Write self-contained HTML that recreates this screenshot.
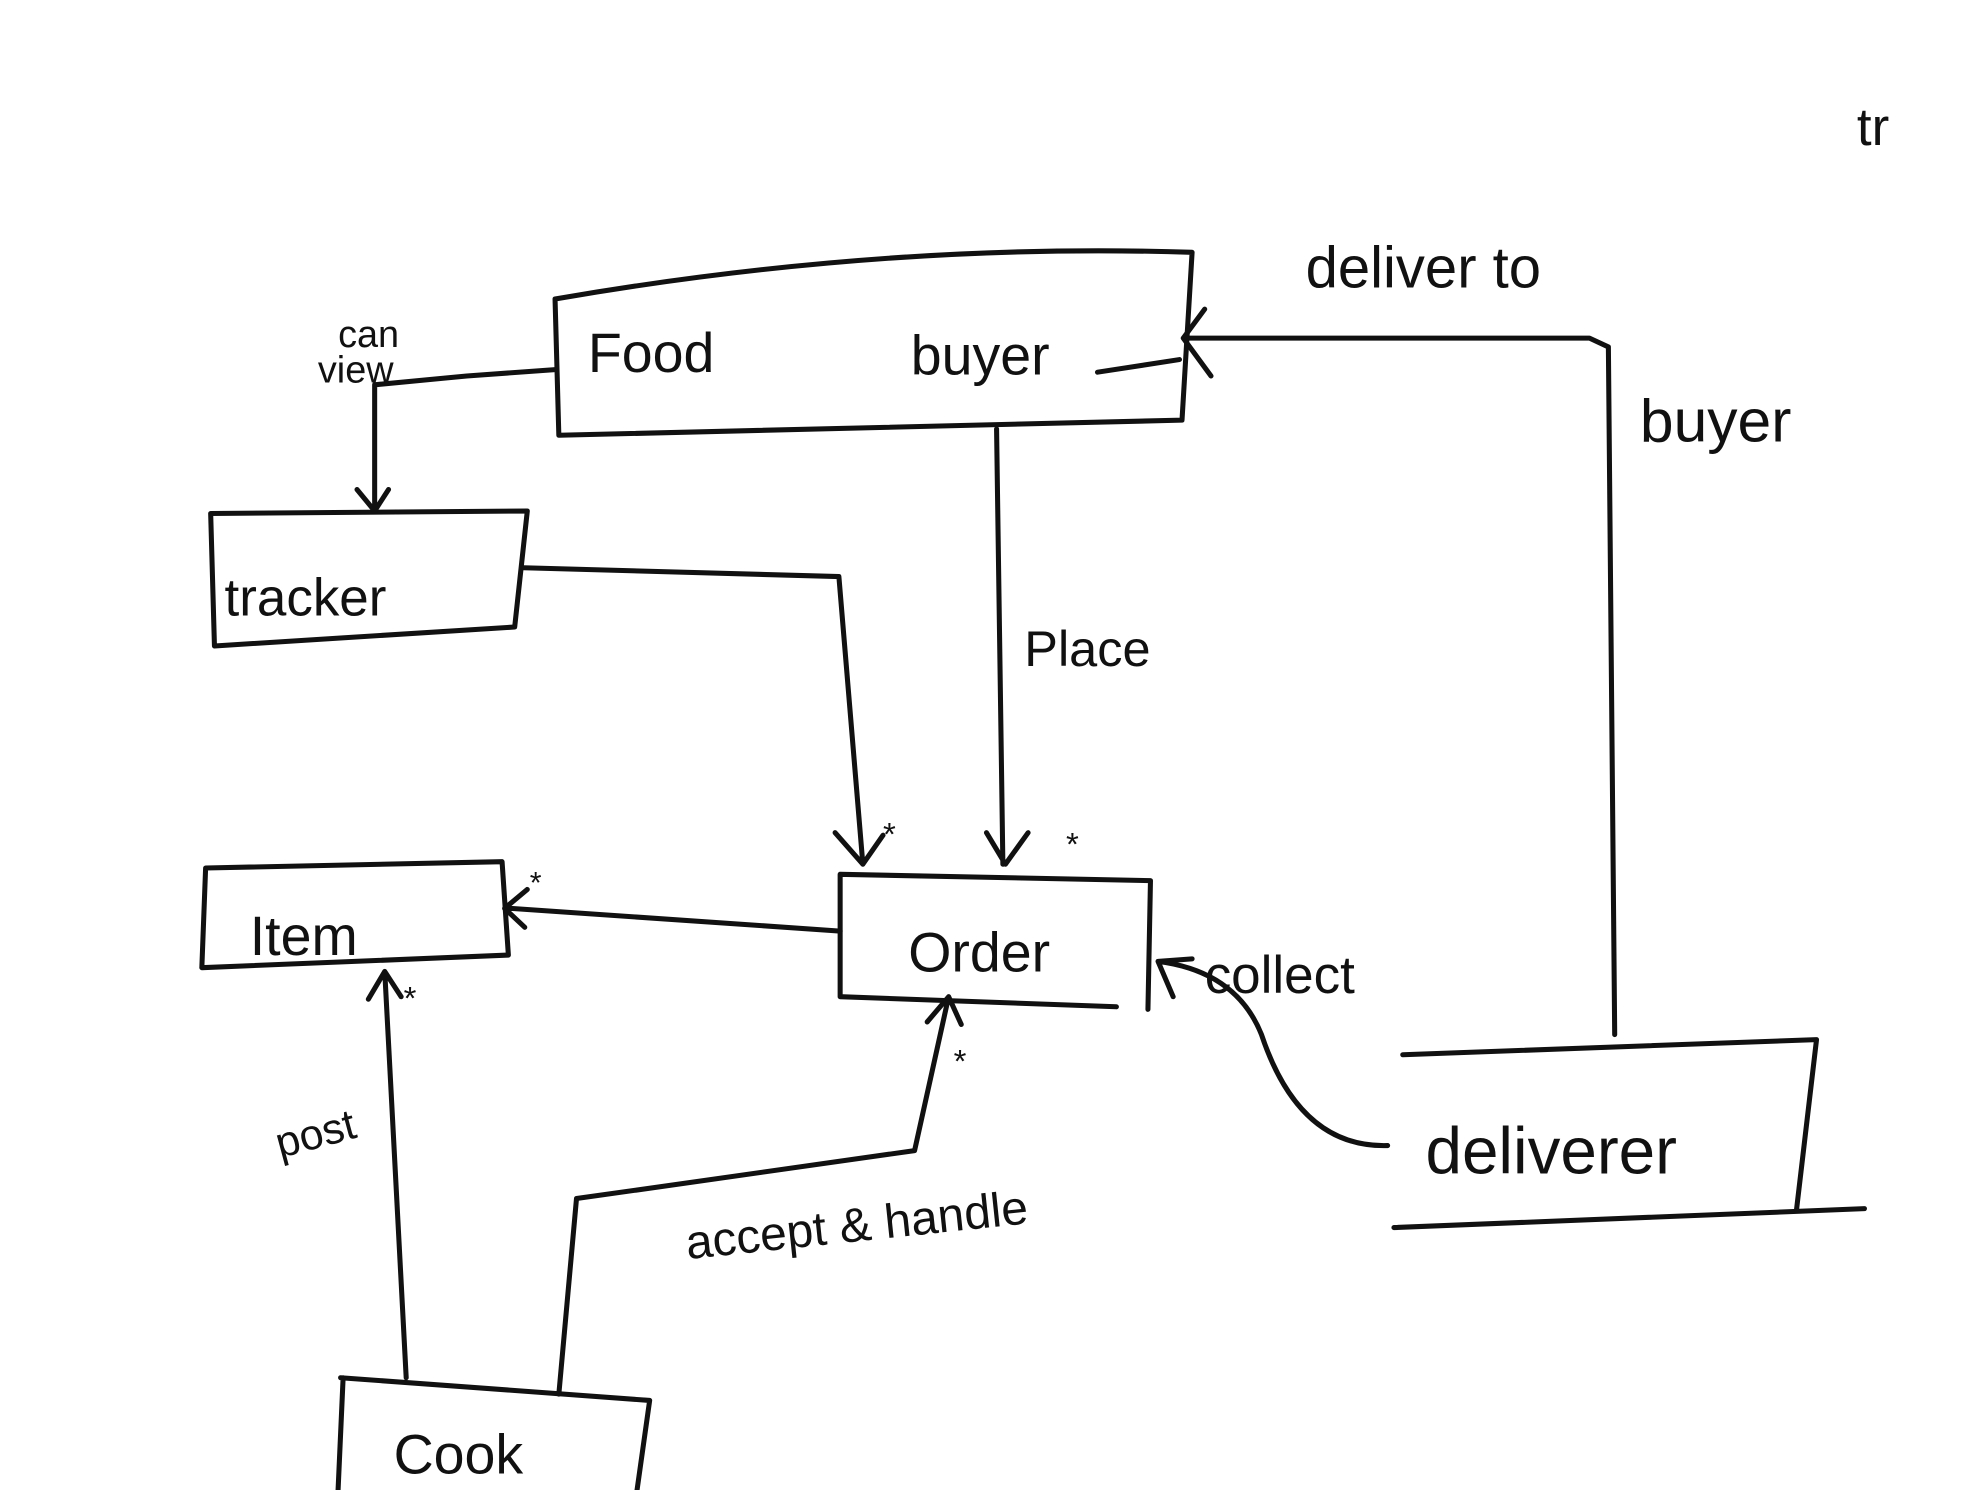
<!DOCTYPE html>
<html><head><style>
html,body{margin:0;padding:0;background:#fff;}
svg{display:block;}
text{font-family:"Liberation Sans",sans-serif;fill:#111;}
</style></head><body>
<svg width="1978" height="1490" viewBox="0 0 1568 1181" preserveAspectRatio="none" xmlns="http://www.w3.org/2000/svg">
<g fill="none" stroke="#111" stroke-width="4" stroke-linecap="round" stroke-linejoin="round">
<path d="M440,237 Q700,192 945,200 L937,333 L443,345 Z"/>
<path d="M167,407 L418,405 L408,497 L170,512 Z"/>
<path d="M163,688 L398,683 L403,757 L160,767 Z"/>
<path d="M666,790 L666,693 L912,698 L910,800 M666,790 L885,798"/>
<path d="M1112,836 L1440,824 L1424,960 M1105,973 L1478,958"/>
<path d="M270,1092 L515,1110 L505,1181 M272,1092 L268,1181"/>
<path d="M440,293 L370,298 L297,305 L297,405 M283,388 L297,405 L308,388"/>
<path d="M415,450 L665,457 L684,685 M662,660 L684,685 L700,662"/>
<path d="M790,340 L795,685 M782,660 L797,685 L815,660"/>
<path d="M666,738 L405,720 M418,705 L400,720 L416,735"/>
<path d="M322,1092 L305,770 M292,792 L305,770 L318,790"/>
<path d="M443,1105 L457,950 L725,912 L752,790 M735,810 L752,790 L762,812"/>
<path d="M1100,908 Q1030,910 1000,820 Q980,770 918,762 M930,790 L918,762 L945,760"/>
<path d="M1280,820 L1275,275 L1260,268 L940,268 M955,245 L938,268 L960,298 M870,295 L935,285"/>
</g>
<g font-size="44">
<text x="466" y="295">Food</text>
<text x="722" y="297">buyer</text>
<text x="268" y="275" font-size="30">can</text>
<text x="252" y="303" font-size="30">view</text>
<text x="178" y="488" font-size="42">tracker</text>
<text x="812" y="528" font-size="40">Place</text>
<text x="198" y="757">Item</text>
<text x="720" y="770">Order</text>
<text x="955" y="787" font-size="42">collect</text>
<text x="1130" y="930" font-size="52">deliverer</text>
<text x="222" y="918" font-size="34" transform="rotate(-15 222 918)">post</text>
<text x="545" y="998" font-size="38" transform="rotate(-6 545 998)">accept &amp; handle</text>
<text x="312" y="1168">Cook</text>
<text x="1035" y="228" font-size="46">deliver to</text>
<text x="1300" y="350" font-size="48">buyer</text>
<text x="1472" y="115" font-size="42">tr</text>
<text x="700" y="670" font-size="26">*</text>
<text x="845" y="678" font-size="26">*</text>
<text x="420" y="708" font-size="24">*</text>
<text x="320" y="800" font-size="26">*</text>
<text x="756" y="850" font-size="26">*</text>
</g>
</svg>
</body></html>
